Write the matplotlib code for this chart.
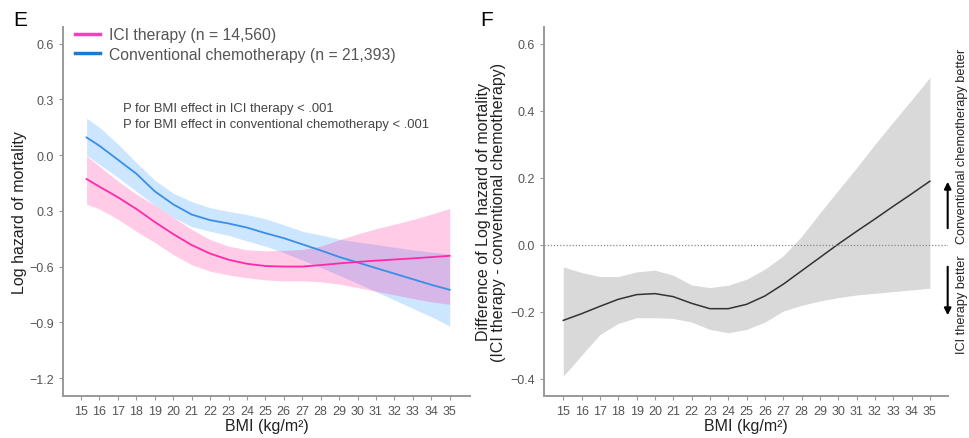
import matplotlib
matplotlib.use("Agg")
import matplotlib.pyplot as plt
from matplotlib.lines import Line2D
from matplotlib.patches import FancyArrowPatch

plt.rcParams['font.family'] = ['Liberation Sans', 'DejaVu Sans']

# panel E: log hazard by BMI
bmi_e = [15.3, 16, 17, 18, 19, 20, 21, 22, 23, 24, 25, 26, 27, 28, 29, 30, 31, 32, 33, 34, 35]
ici_fit = [-0.129, -0.17, -0.227, -0.29, -0.36, -0.425, -0.484, -0.53, -0.563, -0.585, -0.597,
           -0.6, -0.6, -0.592, -0.583, -0.575, -0.568, -0.562, -0.556, -0.549, -0.542]
ici_hi = [-0.004, -0.06, -0.14, -0.21, -0.27, -0.335, -0.40, -0.455, -0.49, -0.51, -0.515,
          -0.513, -0.508, -0.49, -0.456, -0.425, -0.396, -0.372, -0.347, -0.318, -0.287]
ici_lo = [-0.264, -0.29, -0.345, -0.41, -0.47, -0.535, -0.59, -0.625, -0.645, -0.66, -0.672,
          -0.677, -0.677, -0.682, -0.694, -0.713, -0.733, -0.752, -0.772, -0.79, -0.803]
chemo_fit = [0.095, 0.05, -0.025, -0.10, -0.195, -0.265, -0.32, -0.35, -0.368, -0.39, -0.42,
             -0.447, -0.48, -0.513, -0.548, -0.578, -0.608, -0.638, -0.668, -0.698, -0.725]
chemo_hi = [0.198, 0.15, 0.06, -0.04, -0.135, -0.205, -0.25, -0.283, -0.303, -0.32, -0.343,
            -0.375, -0.41, -0.43, -0.452, -0.467, -0.481, -0.496, -0.51, -0.522, -0.533]
chemo_lo = [0.0, -0.05, -0.12, -0.195, -0.27, -0.335, -0.385, -0.41, -0.432, -0.462, -0.49,
            -0.525, -0.565, -0.605, -0.647, -0.69, -0.735, -0.78, -0.825, -0.87, -0.92]

# panel F: difference ICI - chemo
bmi_f = [15, 16, 17, 18, 19, 20, 21, 22, 23, 24, 25, 26, 27, 28, 29, 30, 31, 32, 33, 34, 35]
diff_fit = [-0.226, -0.206, -0.184, -0.163, -0.149, -0.146, -0.155, -0.175, -0.191, -0.191, -0.178,
            -0.153, -0.118, -0.078, -0.038, 0.002, 0.04, 0.077, 0.115, 0.152, 0.19]
diff_hi = [-0.066, -0.083, -0.095, -0.095, -0.081, -0.076, -0.091, -0.12, -0.128, -0.121, -0.103,
           -0.073, -0.033, 0.025, 0.095, 0.163, 0.23, 0.30, 0.367, 0.433, 0.5]
diff_lo = [-0.393, -0.33, -0.268, -0.235, -0.218, -0.218, -0.22, -0.231, -0.253, -0.263, -0.253,
           -0.231, -0.198, -0.181, -0.168, -0.158, -0.15, -0.145, -0.14, -0.135, -0.13]

xticks = list(range(15, 36))
e_yticks = [0.6, 0.3, 0.0, -0.3, -0.6, -0.9, -1.2]
e_ylabels = ['0.6', '0.3', '0.0', '0.3', '\u22120.6', '\u22120.9', '\u22121.2']
f_yticks = [0.6, 0.4, 0.2, 0.0, -0.2, -0.4]
f_ylabels = ['0.6', '0.4', '0.2', '0.0', '\u22120.2', '\u22120.4']

pink = '#FF2AA8'
blue = '#3A8EE6'
spine_col = '#999999'
tick_col = '#555555'

fig = plt.figure(figsize=(9.69, 4.39), dpi=100)
axE = fig.add_axes([0.065, 0.0964, 0.42, 0.840])
axF = fig.add_axes([0.5614, 0.0964, 0.4166, 0.840])


def style(ax):
    for s in ['top', 'right']:
        ax.spines[s].set_visible(False)
    for s in ['left', 'bottom']:
        ax.spines[s].set_color(spine_col)
        ax.spines[s].set_linewidth(1.4)
    ax.tick_params(colors=spine_col, labelcolor=tick_col, labelsize=9, length=3, width=0.8)
    ax.set_xticks(xticks)
    ax.set_xlabel('BMI (kg/m\u00b2)', fontsize=11.5, color='#222222', labelpad=1)


# ---- panel E
axE.fill_between(bmi_e, chemo_lo, chemo_hi, color='#1E90FF', alpha=0.22, lw=0)
axE.fill_between(bmi_e, ici_lo, ici_hi, color='#FF1493', alpha=0.22, lw=0)
axE.plot(bmi_e, chemo_fit, color=blue, lw=1.3)
axE.plot(bmi_e, ici_fit, color=pink, lw=1.3)
axE.set_xlim(14.02, 36.1)
axE.set_ylim(-1.295, 0.69)
axE.set_yticks(e_yticks)
axE.set_yticklabels(e_ylabels)
style(axE)
axE.set_ylabel('Log hazard of mortality', fontsize=11.5, color='#222222', labelpad=2)
axE.text(0.148, 0.797, 'P for BMI effect in ICI therapy < .001\nP for BMI effect in conventional chemotherapy < .001',
         transform=axE.transAxes, fontsize=9.4, color='#444444', va='top', linespacing=1.5)
handles = [Line2D([], [], color='#FF3DB8', lw=2.5),
           Line2D([], [], color='#1F78D2', lw=2.5)]
fig.legend(handles, ['ICI therapy (n = 14,560)', 'Conventional chemotherapy (n = 21,393)'],
           loc='upper left', bbox_to_anchor=(0.066, 0.961), frameon=False, fontsize=11.3,
           handlelength=1.6, handletextpad=0.55, labelspacing=0.3, labelcolor='#555555',
           borderpad=0.2)

# ---- panel F
axF.fill_between(bmi_f, diff_lo, diff_hi, color='#D9D9D9', lw=0)
axF.plot(bmi_f, diff_fit, color='#333333', lw=1.1)
axF.axhline(0, color='#888888', lw=0.9, ls=(0, (1, 1.5)))
axF.set_xlim(13.95, 35.97)
axF.set_ylim(-0.451, 0.651)
axF.set_yticks(f_yticks)
axF.set_yticklabels(f_ylabels)
style(axF)
axF.set_ylabel('Difference of Log hazard of mortality\n(ICI therapy - conventional chemotherapy)',
               fontsize=11.5, color='#222222', labelpad=3, linespacing=1.0)

# panel letters
fig.text(0.014, 0.975, 'E', fontsize=15, va='top')
fig.text(0.496, 0.975, 'F', fontsize=15, va='top')

# direction arrows and labels
fig.text(0.9925, 1 - 146 / 439, 'Conventional chemotherapy better', rotation=90, fontsize=9.2,
         va='center', ha='center', color='#222222')
fig.text(0.9925, 1 - 305 / 439, 'ICI therapy better', rotation=90, fontsize=9.2,
         va='center', ha='center', color='#222222')
fig.add_artist(FancyArrowPatch((0.978, 1 - 232 / 439), (0.978, 1 - 180 / 439),
               transform=fig.transFigure, arrowstyle='-|>', mutation_scale=10, color='black', lw=1.5))
fig.add_artist(FancyArrowPatch((0.978, 1 - 265 / 439), (0.978, 1 - 319 / 439),
               transform=fig.transFigure, arrowstyle='-|>', mutation_scale=10, color='black', lw=1.5))

fig.savefig('out.png', dpi=100)
